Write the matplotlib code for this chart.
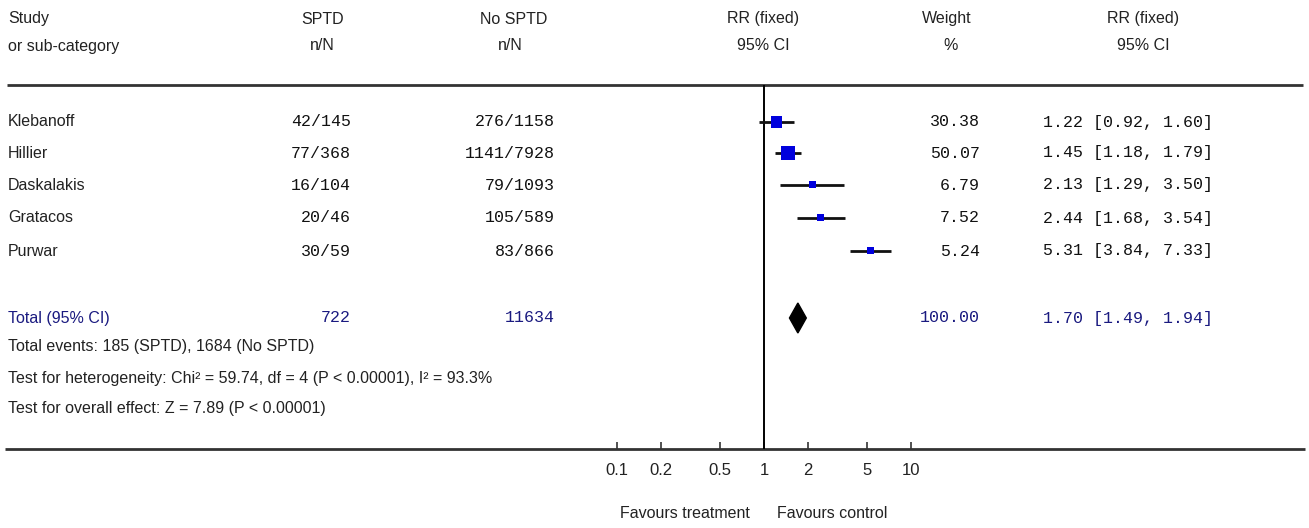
import matplotlib
matplotlib.use("Agg")
import matplotlib.pyplot as plt
from matplotlib.patches import Rectangle, Polygon
import numpy as np

# ---- study data ----
studies = ["Klebanoff", "Hillier", "Daskalakis", "Gratacos", "Purwar"]
sptd_n = [42, 77, 16, 20, 30]
sptd_N = [145, 368, 104, 46, 59]
nosptd_n = [276, 1141, 79, 105, 83]
nosptd_N = [1158, 7928, 1093, 589, 866]
weights = [30.38, 50.07, 6.79, 7.52, 5.24]
rr = [1.22, 1.45, 2.13, 2.44, 5.31]
rr_lo = [0.92, 1.18, 1.29, 1.68, 3.84]
rr_hi = [1.60, 1.79, 3.50, 3.54, 7.33]

total_sptd = 722
total_nosptd = 11634
total_weight = 100.00
total_rr = 1.70
total_lo = 1.49
total_hi = 1.94

footer_lines = [
    "Total events: 185 (SPTD), 1684 (No SPTD)",
    "Test for heterogeneity: Chi\u00b2 = 59.74, df = 4 (P < 0.00001), I\u00b2 = 93.3%",
    "Test for overall effect: Z = 7.89 (P < 0.00001)",
]

tick_values = [0.1, 0.2, 0.5, 1, 2, 5, 10]
tick_labels = ["0.1", "0.2", "0.5", "1", "2", "5", "10"]

# ---- layout (pixel units) ----
W, H = 1309, 528
row_y = [122, 153, 185, 218, 251]
total_y = 318
footer_y = [346, 378, 408]
header_y = [19, 46]
top_rule_y = 85
axis_y = 449

SANS = ["Liberation Sans", "DejaVu Sans"]
MONO = ["Liberation Mono", "DejaVu Sans Mono"]
NAVY = "#1a1a80"
BLUE = "#0000dd"

fig = plt.figure(figsize=(W / 100, H / 100), dpi=100)
fig.patch.set_facecolor("white")

# overlay in pixel coordinates for the table text and rules
ov = fig.add_axes([0, 0, 1, 1])
ov.set_xlim(0, W)
ov.set_ylim(H, 0)
ov.axis("off")

hdr_kw = dict(family=SANS, fontsize=11.5, color="#222222", va="center")
ov.text(8, header_y[0], "Study", ha="left", **hdr_kw)
ov.text(8, header_y[1], "or sub-category", ha="left", **hdr_kw)
ov.text(323, header_y[0], "SPTD", ha="center", **hdr_kw)
ov.text(322, header_y[1], "n/N", ha="center", **hdr_kw)
ov.text(514, header_y[0], "No SPTD", ha="center", **hdr_kw)
ov.text(510, header_y[1], "n/N", ha="center", **hdr_kw)
ov.text(763, header_y[0], "RR (fixed)", ha="center", **hdr_kw)
ov.text(763, header_y[1], "95% CI", ha="center", **hdr_kw)
ov.text(947, header_y[0], "Weight", ha="center", **hdr_kw)
ov.text(951, header_y[1], "%", ha="center", **hdr_kw)
ov.text(1143, header_y[0], "RR (fixed)", ha="center", **hdr_kw)
ov.text(1143, header_y[1], "95% CI", ha="center", **hdr_kw)

ov.plot([7, 1303], [top_rule_y, top_rule_y], color="#333333", lw=2.0,
        solid_capstyle="butt")
ov.plot([5, 1305], [axis_y, axis_y], color="#333333", lw=2.0,
        solid_capstyle="butt")

mono_kw = dict(family=MONO, fontsize=12, color="#111111", va="center")
for i, y in enumerate(row_y):
    ov.text(8, y, studies[i], ha="left", **hdr_kw)
    ov.text(351, y, f"{sptd_n[i]}/{sptd_N[i]}", ha="right", **mono_kw)
    ov.text(555, y, f"{nosptd_n[i]}/{nosptd_N[i]}", ha="right", **mono_kw)
    ov.text(980, y, f"{weights[i]:.2f}", ha="right", **mono_kw)
    ov.text(1043, y, f"{rr[i]:.2f} [{rr_lo[i]:.2f}, {rr_hi[i]:.2f}]",
            ha="left", **mono_kw)

tot_mono = dict(mono_kw, color=NAVY)
ov.text(8, total_y, "Total (95% CI)", ha="left", **dict(hdr_kw, color=NAVY))
ov.text(351, total_y, f"{total_sptd}", ha="right", **tot_mono)
ov.text(555, total_y, f"{total_nosptd}", ha="right", **tot_mono)
ov.text(980, total_y, f"{total_weight:.2f}", ha="right", **tot_mono)
ov.text(1043, total_y, f"{total_rr:.2f} [{total_lo:.2f}, {total_hi:.2f}]",
        ha="left", **tot_mono)

for y, line in zip(footer_y, footer_lines):
    ov.text(8, y, line, ha="left", **hdr_kw)

# ---- forest plot on a log scale ----
x0, x1 = 617, 911
fa = fig.add_axes([x0 / W, (H - axis_y) / H, (x1 - x0) / W,
                   (axis_y - top_rule_y) / H])
fa.set_xscale("log")
fa.set_xlim(0.1, 10)
fa.set_ylim(axis_y, top_rule_y)
fa.patch.set_alpha(0)
for s in fa.spines.values():
    s.set_visible(False)
fa.set_yticks([])
fa.set_xticks(tick_values)
fa.set_xticklabels(tick_labels, family=SANS, fontsize=12, color="#222222")
fa.minorticks_off()
fa.tick_params(axis="x", direction="in", length=5, width=1.2, pad=10,
               color="#333333")

fa.axvline(1, color="black", lw=1.4)

for i, y in enumerate(row_y):
    fa.plot([rr_lo[i], rr_hi[i]], [y, y], color="#111111", lw=2.0,
            solid_capstyle="butt", zorder=2)
    side = max(2.0 * np.sqrt(weights[i]), 7.0)  # pixels
    # square centred on the estimate, width measured in log space
    half = side / 2.0 / 147.0
    lx = 10 ** (np.log10(rr[i]) - half)
    rx = 10 ** (np.log10(rr[i]) + half)
    fa.add_patch(Rectangle((lx, y - side / 2), rx - lx, side,
                           facecolor=BLUE, edgecolor="none", zorder=3))

dy = 15
fa.add_patch(Polygon([(total_lo, total_y), (total_rr, total_y - dy),
                      (total_hi, total_y), (total_rr, total_y + dy)],
                     closed=True, facecolor="black", edgecolor="black",
                     zorder=3))

ov.text(750, 514, "Favours treatment", ha="right", **hdr_kw)
ov.text(777, 514, "Favours control", ha="left", **hdr_kw)

fig.savefig("out.png", dpi=100, facecolor="white")
